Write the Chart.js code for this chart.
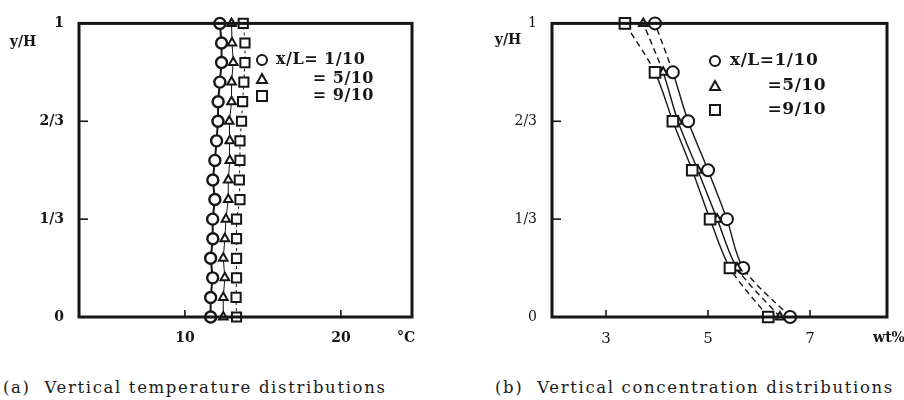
<!DOCTYPE html>
<html>
<head>
<meta charset="utf-8">
<script src="https://cdn.jsdelivr.net/npm/chart.js@4.4.0/dist/chart.umd.min.js"></script>
<style>
  html, body { margin: 0; padding: 0; background: #fff; }
  body { width: 904px; height: 400px; overflow: hidden; position: relative; font-family: "DejaVu Serif", serif; color: #1a1a1a; }
  .panel { position: absolute; top: 0; width: 452px; height: 360px; }
  .cap { position: absolute; top: 379px; font-size: 16.5px; line-height: 18px; letter-spacing: 1.65px; white-space: pre; color: #1a1a1a; }
</style>
</head>
<body>
<div class="panel" style="left:0"><canvas id="chartA" width="452" height="360"></canvas></div>
<div class="panel" style="left:452px"><canvas id="chartB" width="452" height="360"></canvas></div>
<div class="cap" style="left:3px">(a)  Vertical temperature distributions</div>
<div class="cap" style="left:495px">(b)  Vertical concentration distributions</div>

<script>
// ---- (a) temperature profiles, 16 measuring heights y/H ----
const heightsA = [0, 1/15, 2/15, 3/15, 4/15, 5/15, 6/15, 7/15, 8/15, 9/15, 10/15, 11/15, 12/15, 13/15, 14/15, 1];
const tempAt1 = [11.65, 11.65, 11.78, 11.65, 11.79, 11.78, 11.92, 11.79, 11.92, 12.03, 12.12, 12.13, 12.24, 12.35, 12.35, 12.24];
const tempAt5 = [12.46, 12.46, 12.56, 12.46, 12.56, 12.63, 12.78, 12.78, 12.88, 12.88, 12.84, 12.99, 12.99, 13.10, 13.02, 12.99];
const tempAt9 = [13.31, 13.28, 13.31, 13.31, 13.31, 13.31, 13.53, 13.49, 13.53, 13.53, 13.63, 13.70, 13.78, 13.85, 13.85, 13.74];

// ---- (b) concentration profiles, 7 measuring heights y/H ----
const heightsB = [0, 1/6, 1/3, 1/2, 2/3, 5/6, 1];
const concAt1 = [6.61, 5.69, 5.37, 5.00, 4.61, 4.31, 3.96];
const concAt5 = [6.41, 5.57, 5.18, 4.80, 4.41, 4.12, 3.73];
const concAt9 = [6.18, 5.43, 5.04, 4.69, 4.31, 3.96, 3.37];

// ---- axis ticks and labels ----
const heightTicks = [0, 1/3, 2/3, 1];
const heightTickLabels = ['0', '1/3', '2/3', '1'];
const tempTicks = [10, 20];
const concTicks = [3, 5, 7];
const legendLabels = ['x/L= 1/10', '= 5/10', '= 9/10'];
const legendLabelsB = ['x/L=1/10', '=5/10', '=9/10'];

const INK = '#161616';
const pairs = (xs, ys) => xs.map((v, i) => ({ x: v, y: ys[i] }));

// frame, inward tick marks, unit and y/H labels, in-plot legend
const decorPlugin = {
  id: 'decor',
  afterDatasetsDraw(chart, args, o) {
    const { ctx, chartArea: a, scales: { x, y } } = chart;
    ctx.save();
    ctx.strokeStyle = INK;
    ctx.lineWidth = o.frameWidth;
    ctx.strokeRect(a.left, a.top, a.right - a.left, a.bottom - a.top);

    ctx.lineWidth = 1.6;
    x.ticks.forEach(t => {
      const px = x.getPixelForValue(t.value);
      ctx.beginPath(); ctx.moveTo(px, a.bottom); ctx.lineTo(px, a.bottom - 7); ctx.stroke();
    });
    y.ticks.forEach(t => {
      if (t.value <= 0 || t.value >= 1) return;
      const py = y.getPixelForValue(t.value);
      ctx.beginPath(); ctx.moveTo(a.left, py); ctx.lineTo(a.left + 9, py); ctx.stroke();
    });

    ctx.fillStyle = INK;
    ctx.textBaseline = 'middle';
    ctx.textAlign = 'center';
    ctx.font = o.unitFont;
    ctx.fillText(o.unit, o.unitX, o.unitY);
    ctx.font = 'bold 14px "DejaVu Serif"';
    ctx.fillText('y/H', o.yTitleX, o.yTitleY);

    // legend
    const L = o.legend;
    const markers = ['circle', 'triangle', 'rect'];
    markers.forEach((m, i) => {
      const cx = L.x, cy = L.rows[i];
      ctx.lineWidth = 2;
      ctx.fillStyle = '#fff';
      ctx.beginPath();
      if (m === 'circle') { ctx.arc(cx, cy, L.r, 0, Math.PI * 2); }
      else if (m === 'triangle') { ctx.moveTo(cx, cy - L.r); ctx.lineTo(cx + L.r, cy + L.r * 0.8); ctx.lineTo(cx - L.r, cy + L.r * 0.8); ctx.closePath(); }
      else { ctx.rect(cx - L.r, cy - L.r, L.r * 2, L.r * 2); }
      ctx.fill(); ctx.stroke();
    });
    ctx.fillStyle = INK;
    ctx.font = L.font;
    if ('letterSpacing' in ctx) ctx.letterSpacing = L.spacing;
    ctx.textAlign = 'left';
    ctx.fillText(L.labels[0], L.textX, L.rows[0]);
    ctx.textAlign = 'right';
    ctx.fillText(L.labels[1], L.textRight, L.rows[1]);
    ctx.fillText(L.labels[2], L.textRight, L.rows[2]);
    ctx.restore();
  }
};

function profile(data, style, extra) {
  return Object.assign({
    data,
    showLine: true,
    clip: false,
    borderColor: INK,
    pointBorderColor: INK,
    pointBackgroundColor: '#fff',
    pointBorderWidth: 2
  }, style, extra);
}

function heightAxis(width, pad, font) {
  return {
    type: 'linear', min: 0, max: 1,
    afterBuildTicks: s => { s.ticks = heightTicks.map(v => ({ value: v })); },
    afterFit: s => { s.width = width; },
    ticks: { padding: pad, color: INK, font, callback: v => heightTickLabels[heightTicks.indexOf(v)] },
    grid: { display: false, drawTicks: false },
    border: { display: false }
  };
}

function valueAxis(min, max, tickVals, font) {
  return {
    type: 'linear', min, max,
    afterBuildTicks: s => { s.ticks = tickVals.map(v => ({ value: v })); },
    afterFit: s => { s.height = 43; },
    ticks: { padding: 13, color: INK, font, callback: v => String(v) },
    grid: { display: false, drawTicks: false },
    border: { display: false }
  };
}

// (a) temperature
new Chart(document.getElementById('chartA'), {
  type: 'scatter',
  data: {
    datasets: [
      profile(pairs(tempAt9, heightsA), { pointStyle: 'rect', pointRadius: 6.5, borderWidth: 1, borderDash: [3, 3] }),
      profile(pairs(tempAt5, heightsA), { pointStyle: 'triangle', pointRadius: 5, borderWidth: 1 }),
      profile(pairs(tempAt1, heightsA), { pointStyle: 'circle', pointRadius: 5.5, pointBorderWidth: 2.4, borderWidth: 2 })
    ]
  },
  options: {
    responsive: false, animation: false,
    layout: { padding: { left: 0, right: 40, top: 14, bottom: 0 } },
    plugins: {
      legend: { display: false }, tooltip: { enabled: false },
      decor: {
        frameWidth: 3, unit: '°C', unitX: 406, unitY: 338, unitFont: 'bold 14px "DejaVu Serif"',
        yTitleX: 23, yTitleY: 42,
        legend: { x: 262, rows: [60, 79, 96], r: 5, font: 'bold 16px "DejaVu Serif"', spacing: '0.5px', labels: legendLabels, textX: 276, textRight: 374 }
      }
    },
    scales: {
      x: valueAxis(3.21, 24.56, tempTicks, { family: 'DejaVu Serif', size: 14, weight: 'bold' }),
      y: heightAxis(79, 15, { family: 'DejaVu Serif', size: 14, weight: 'bold' })
    }
  },
  plugins: [decorPlugin]
});

// (b) concentration: measured part solid, extrapolation to top and bottom dashed
const edgeDash = ctx => (ctx.p0DataIndex === 0 || ctx.p1DataIndex === heightsB.length - 1) ? [6, 4] : undefined;
new Chart(document.getElementById('chartB'), {
  type: 'scatter',
  data: {
    datasets: [
      profile(pairs(concAt9, heightsB), { pointStyle: 'rect', pointRadius: 7.5, borderWidth: 1.4, tension: 0.3, segment: { borderDash: edgeDash } }),
      profile(pairs(concAt5, heightsB), { pointStyle: 'triangle', pointRadius: 5, borderWidth: 1.4, tension: 0.3, segment: { borderDash: edgeDash } }),
      profile(pairs(concAt1, heightsB), { pointStyle: 'circle', pointRadius: 6, borderWidth: 1.4, tension: 0.3, segment: { borderDash: edgeDash } })
    ]
  },
  options: {
    responsive: false, animation: false,
    layout: { padding: { left: 0, right: 17, top: 12, bottom: 0 } },
    plugins: {
      legend: { display: false }, tooltip: { enabled: false },
      decor: {
        frameWidth: 3, unit: 'wt%', unitX: 437, unitY: 338, unitFont: 'bold 14px "DejaVu Serif"',
        yTitleX: 56, yTitleY: 40,
        legend: { x: 263, rows: [61, 86, 110], r: 5, font: 'bold 17px "DejaVu Serif"', spacing: '0.5px', labels: legendLabelsB, textX: 278, textRight: 374 }
      }
    },
    scales: {
      x: valueAxis(1.94, 8.51, concTicks, { family: 'DejaVu Serif', size: 15 }),
      y: heightAxis(100, 15, { family: 'DejaVu Serif', size: 14 })
    }
  },
  plugins: [decorPlugin]
});
</script>
</body>
</html>
